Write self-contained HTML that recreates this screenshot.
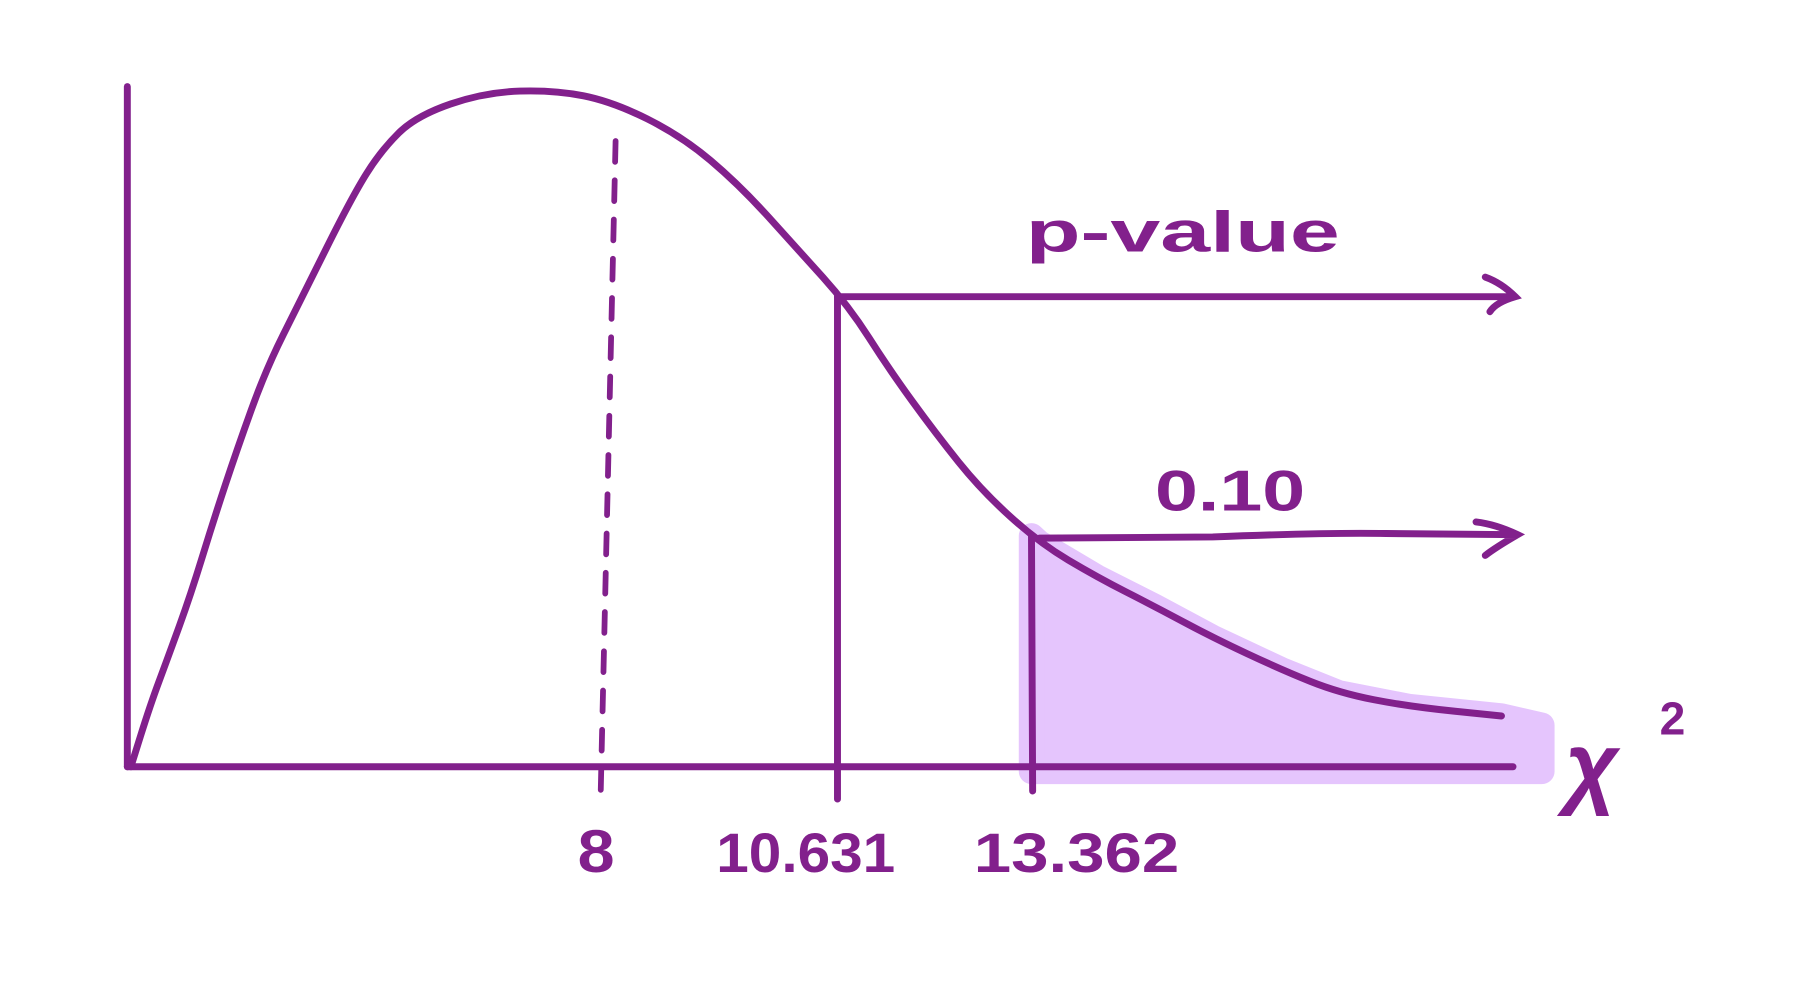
<!DOCTYPE html>
<html><head><meta charset="utf-8"><style>
html,body{margin:0;padding:0;background:#fff;}
svg{display:block;}
text{font-family:"Liberation Sans",sans-serif;fill:#82208c;font-weight:bold;}
</style></head><body>
<svg id="chart" width="1802" height="1000" viewBox="0 0 1560 866" xmlns="http://www.w3.org/2000/svg">
<g id="shade"></g>
<line x1="110" y1="75" x2="110" y2="664" stroke="#82208c" stroke-width="6" stroke-linecap="round"/>
<line x1="110" y1="664" x2="1310" y2="664" stroke="#82208c" stroke-width="6" stroke-linecap="round"/>
<g id="marks"></g>
<text x="500" y="755" font-size="52" textLength="32" lengthAdjust="spacingAndGlyphs">8</text>
<text x="620" y="755" font-size="48" textLength="155" lengthAdjust="spacingAndGlyphs">10.631</text>
<text x="843" y="755" font-size="48" textLength="178" lengthAdjust="spacingAndGlyphs">13.362</text>
<text x="888" y="218" font-size="50" textLength="272" lengthAdjust="spacingAndGlyphs">p-value</text>
<text x="1000" y="442" font-size="50" textLength="130" lengthAdjust="spacingAndGlyphs">0.10</text>
<text x="1355" y="690" font-size="80" font-style="italic" font-weight="normal">χ</text>
<text x="1437" y="636" font-size="40">2</text>
</svg>
<script>
const chiValues=[0.06,0.39,0.68,1.07,1.46,1.85,2.34,2.93,3.8,4.29,4.88,6.05,7.22,8.13,8.9,9.54,10.18,10.79,11.36,12.01,12.66,13.47,14.29,15.1,15.92,16.9,17.71,18.69,20];
const densities=[0,0.0092,0.016,0.0254,0.0365,0.0468,0.0587,0.069,0.0843,0.0911,0.0962,0.0997,0.1,0.0983,0.0932,0.086,0.0766,0.0681,0.0587,0.0493,0.0408,0.0331,0.028,0.0237,0.0191,0.0143,0.0109,0.0089,0.0075];
const ticks=[8,10.631,13.362];
const meanValue=8;
const observedValue=10.631;
const criticalValue=13.362;
const domainBreaks=[0,8,10.631,13.362,20];
const rangeBreaks=[110,520,725,893,1300];
function xScale(v){
  for(let i=0;i<domainBreaks.length-1;i++){
    if(v<=domainBreaks[i+1]||i===domainBreaks.length-2){
      const t=(v-domainBreaks[i])/(domainBreaks[i+1]-domainBreaks[i]);
      return rangeBreaks[i]+t*(rangeBreaks[i+1]-rangeBreaks[i]);
    }
  }
}
function yScale(d){return 664-d*5860;}
function densityAt(v){
  for(let i=0;i<chiValues.length-1;i++){
    if(v<=chiValues[i+1]){const t=(v-chiValues[i])/(chiValues[i+1]-chiValues[i]);return densities[i]+t*(densities[i+1]-densities[i]);}
  }
  return densities[densities.length-1];
}
const NS="http://www.w3.org/2000/svg";
const C="#82208c";
const marks=document.getElementById('marks');
const shade=document.getElementById('shade');
function mk(tag,attrs,parent){const e=document.createElementNS(NS,tag);for(const k in attrs)e.setAttribute(k,attrs[k]);parent.appendChild(e);return e;}
let sp=[[xScale(criticalValue),yScale(densityAt(criticalValue))]];
chiValues.forEach((v,i)=>{if(v>criticalValue)sp.push([xScale(v),yScale(densities[i])]);});
sp.push([1335,yScale(densities[densities.length-1])+8],[1335,668],[xScale(criticalValue),668]);
const area=mk('polygon',{points:sp.map(p=>p.join(',')).join(' '),fill:'#e5c5fd',stroke:'#e5c5fd','stroke-width':'22','stroke-linejoin':'round'},shade);


const pts=chiValues.map((v,i)=>[xScale(v),yScale(densities[i])]);
let d='M'+pts[0].join(',');
for(let i=1;i<pts.length;i++){const p0=pts[i-1],p1=pts[i];const mx=(p0[0]+p1[0])/2,my=(p0[1]+p1[1])/2;d+=' Q'+p0[0]+','+p0[1]+' '+mx+','+my;}
d+=' L'+pts[pts.length-1].join(',');
const curve=mk('path',{d:d,fill:'none',stroke:C,'stroke-width':'6','stroke-linecap':'round','stroke-linejoin':'round'},marks);


const mx=xScale(meanValue);
const mean=mk('line',{x1:mx,y1:684,x2:mx+13,y2:115,stroke:C,'stroke-width':'5','stroke-dasharray':'18 16','stroke-linecap':'round'},marks);


const ox=xScale(observedValue);
const oy=yScale(densityAt(observedValue))+5;
const obs=mk('line',{x1:ox,y1:oy,x2:ox,y2:692,stroke:C,'stroke-width':'6','stroke-linecap':'round'},marks);


const pa=mk('path',{d:'M'+ox+','+oy+' L1312,'+oy+' M1286,'+(oy-17)+' Q1300,'+(oy-12)+' 1312,'+oy+' Q1295,'+(oy+5)+' 1290,'+(oy+13),fill:'none',stroke:C,'stroke-width':'6','stroke-linecap':'round'},marks);


const cx=xScale(criticalValue);
const crit=mk('line',{x1:cx,y1:yScale(densityAt(criticalValue)),x2:cx+1,y2:685,stroke:C,'stroke-width':'6','stroke-linecap':'round'},marks);


const cy=yScale(densityAt(criticalValue))+2;
const aa=mk('path',{d:'M'+(cx+7)+','+cy+' L1050,'+(cy-1)+' Q1150,'+(cy-5)+' 1200,'+(cy-4)+' L1314,'+(cy-3)+' M1278,'+(cy-14)+' Q1295,'+(cy-12)+' 1314,'+(cy-3)+' Q1295,'+(cy+8)+' 1286,'+(cy+15),fill:'none',stroke:C,'stroke-width':'6','stroke-linecap':'round'},marks);


</script>
</body></html>
